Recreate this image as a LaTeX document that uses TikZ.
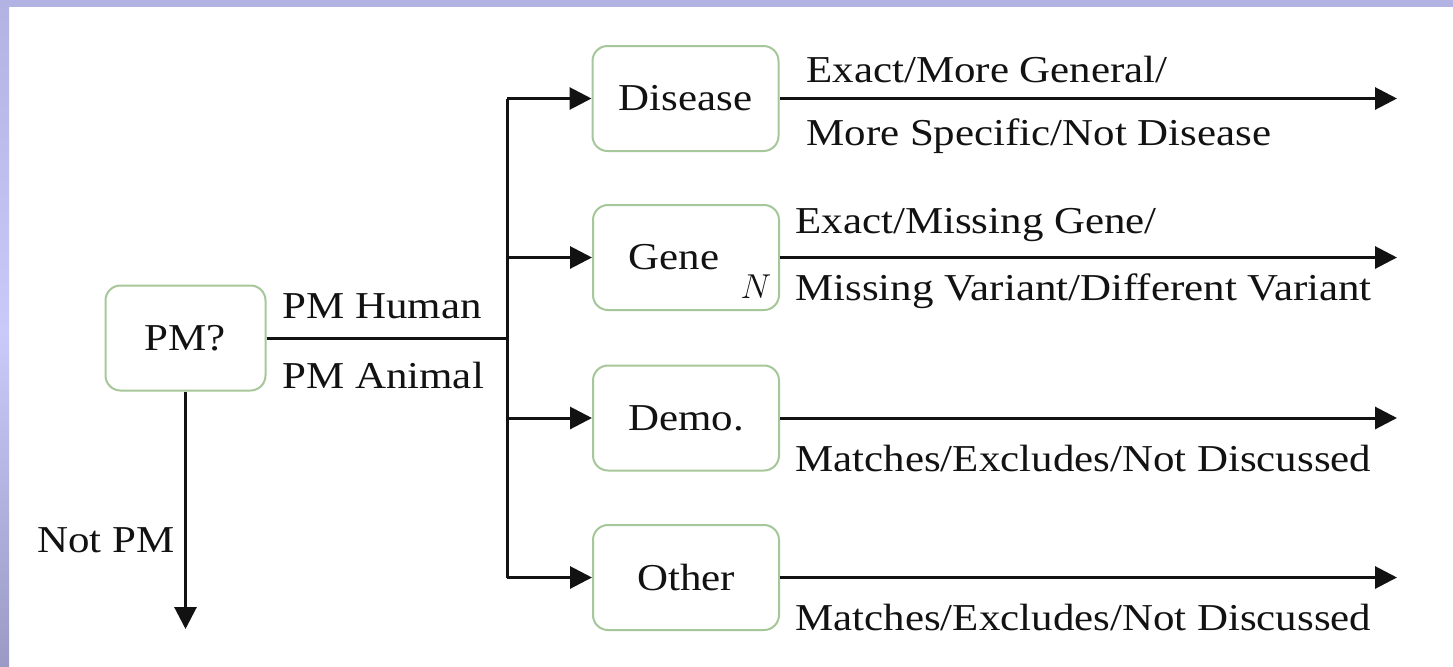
\documentclass[tikz,border=0pt]{standalone}
\usepackage{fontspec}
\setmainfont[FakeStretch=1.13]{Liberation Serif}
\usetikzlibrary{arrows.meta}
\definecolor{bord}{HTML}{A6C79A}
\definecolor{stripA}{HTML}{B3B3E3}
\definecolor{stripB}{HTML}{CACAFA}
\definecolor{stripC}{HTML}{9A9AC4}
\definecolor{ink}{HTML}{121212}
\newcommand{\lblfont}{\fontsize{19}{22}\selectfont}
\begin{document}
\begin{tikzpicture}[x=0.5pt,y=-0.5pt,
  box/.style={draw=bord, line width=1pt, rounded corners=7.5pt, fill=white,
    minimum width=93pt, minimum height=52.5pt, inner sep=0pt, font=\lblfont, text=ink},
  conn/.style={line width=1.5pt, draw=ink},
  arr/.style={conn, -{Triangle[length=11pt,width=11pt]}},
  lbl/.style={font=\lblfont, inner sep=0pt, anchor=base west, text=ink}]
% background and frame strips
\fill[white] (0,0) rectangle (1453,666);
\useasboundingbox (0,0) rectangle (1453,666);
\shade[top color=stripA, bottom color=stripC, middle color=stripB] (0,0) rectangle (9,666);
\fill[stripA] (0,0) rectangle (1453,7);
% nodes
\node[box, minimum width=80pt] (pm) at (185.5,338) {PM?};
\node[box] (dis) at (685.5,98.5) {Disease};
\node[box] (gene) at (686,257.5) {Gene\hspace*{12pt}};
\node[box] (demo) at (686,418) {Demo.};
\node[box] (oth) at (686,577.5) {Other};
\node[inner sep=0pt, anchor=base, font=\fontsize{17.5}{20}\selectfont, text=ink] (nlab) at (756,298) {$N$};
% coordinates
\coordinate (tj) at (507,338);
\coordinate (t1) at (507,98.5);
\coordinate (t2) at (507,257.5);
\coordinate (t3) at (507,418);
\coordinate (t4) at (507,577.5);
\coordinate (e1) at (1397,98.5);
\coordinate (e2) at (1397,257.5);
\coordinate (e3) at (1397,418);
\coordinate (e4) at (1397,577.5);
\coordinate (enot) at (185.5,629);
% connectors
\draw[conn] (pm.east) -- (tj);
\draw[conn] (t1) -- (t4);
\draw[arr] (t1) -- (dis.west);
\draw[arr] (t2) -- (gene.west);
\draw[arr] (t3) -- (demo.west);
\draw[arr] (t4) -- (oth.west);
\draw[arr] (dis.east) -- (e1);
\draw[arr] (gene.east) -- (e2);
\draw[arr] (demo.east) -- (e3);
\draw[arr] (oth.east) -- (e4);
\draw[arr] (pm.south) -- (enot);
% labels
\node[lbl] (lh) at (282,318) {PM Human};
\node[lbl] (la) at (282,388) {PM Animal};
\node[lbl] (lnot) at (37,552) {Not PM};
\node[lbl] (d1) at (806,82) {Exact/More General/};
\node[lbl] (d2) at (806,145) {More Specific/Not Disease};
\node[lbl] (g1) at (795,233) {Exact/Missing Gene/};
\node[lbl] (g2) at (795,300) {Missing Variant/Different Variant};
\node[lbl] (m1) at (795,471) {Matches/Excludes/Not Discussed};
\node[lbl] (o1) at (795,630) {Matches/Excludes/Not Discussed};
\end{tikzpicture}
\end{document}
